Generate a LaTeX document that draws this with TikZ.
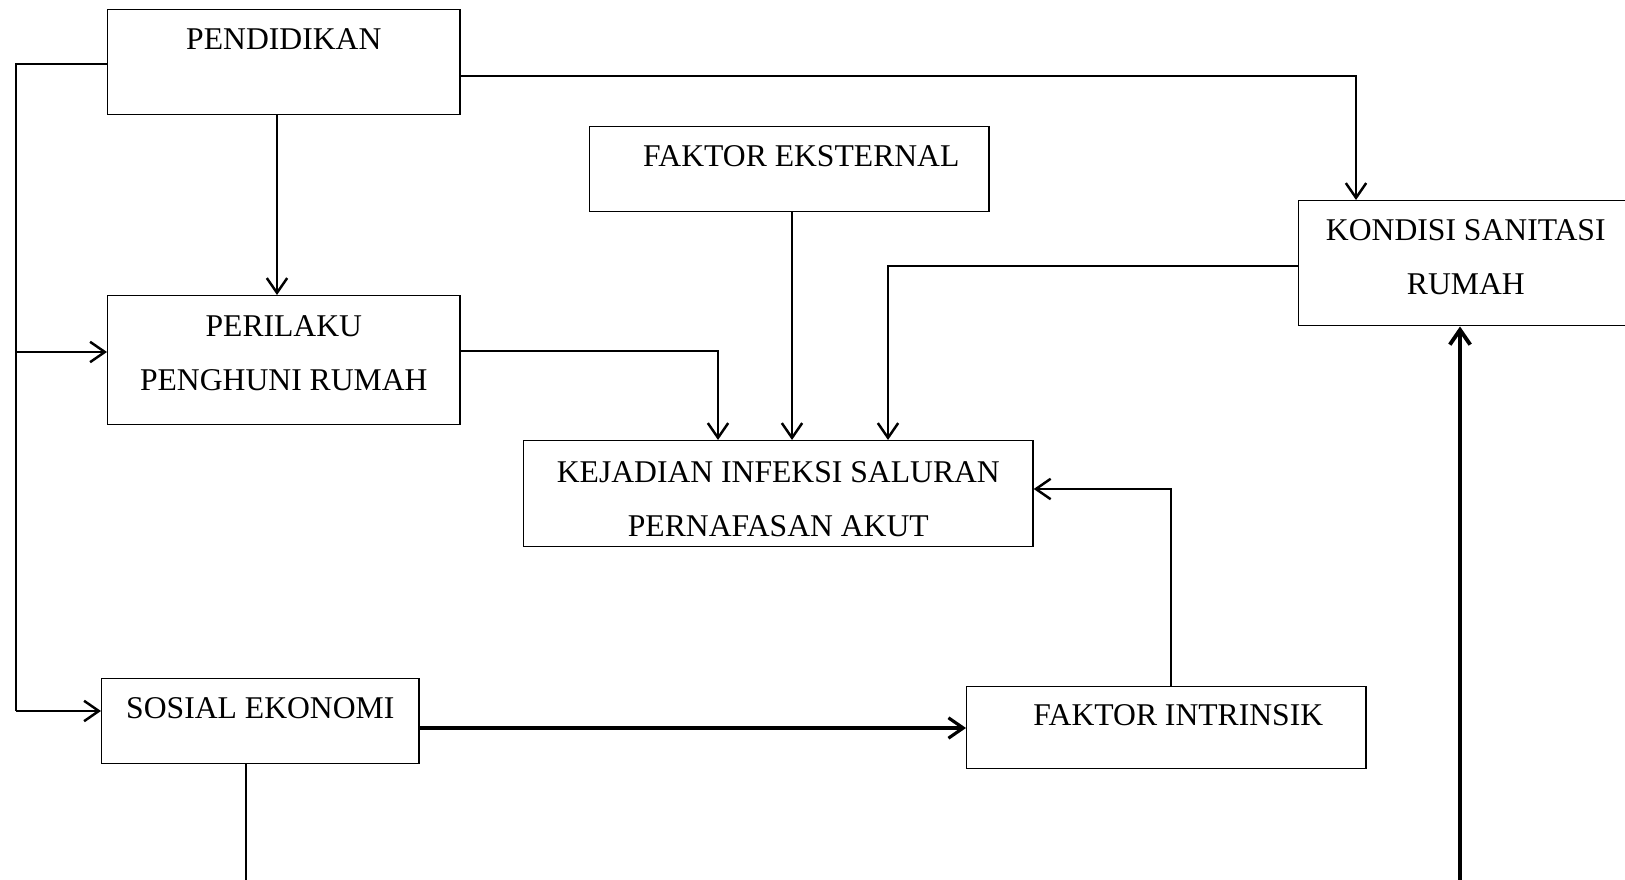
\documentclass[tikz,border=0pt]{standalone}
\usepackage{fontspec}
\setmainfont{Liberation Serif}
\usetikzlibrary{arrows.meta}

\begin{document}
\begin{tikzpicture}
	[x=0.01cm,y=-0.01cm,>={Straight Barb[length=4.2pt,width=5.8pt]},
	box/.style={draw,line width=0.4pt,anchor=north west,inner sep=0pt,align=center,font=\fontsize{9}{15.5}\selectfont},
	link/.style={line width=0.45pt},
	arr/.style={->,line width=0.7pt}]
	\clip (0,0) rectangle (1625,880);
	\node[box,minimum width=3.52cm,text height=0.40cm,text depth=0.65cm] (pend) at (107,9) {PENDIDIKAN};
	\node[box,minimum width=3.52cm,text height=0.95cm,text depth=0.34cm] (peri) at (107,295) {PERILAKU\\PENGHUNI RUMAH};
	\node[box,minimum width=3.99cm,text height=0.40cm,text depth=0.45cm] (ekst) at (589,126) {\hspace*{0.24cm}FAKTOR EKSTERNAL};
	\node[box,minimum width=3.34cm,text height=0.94cm,text depth=0.31cm] (kond) at (1298,200) {KONDISI SANITASI\\RUMAH};
	\node[box,minimum width=5.09cm,text height=0.96cm,text depth=0.10cm] (ispa) at (523,440) {KEJADIAN INFEKSI SALURAN\\PERNAFASAN AKUT};
	\node[box,minimum width=3.17cm,text height=0.40cm,text depth=0.45cm] (sos) at (101,678) {SOSIAL EKONOMI};
	\node[box,minimum width=3.99cm,text height=0.39cm,text depth=0.43cm] (intr) at (966,686) {\hspace*{0.24cm}FAKTOR INTRINSIK};

	\coordinate (bus) at (16,64);
	\coordinate (b1) at (16,352);
	\coordinate (b2) at (16,711);
	\coordinate (sosout) at (246,880);
	\coordinate (kondin) at (1460,880);
	\coordinate (intrup) at (1171,489);

	\draw[link] (pend.west |- bus) -- (bus) -- (b2);
	\draw[arr] (b1) -- (b1 -| peri.west);
	\draw[arr] (b2) -- (b2 -| sos.west);
	\draw[arr] (pend.south -| 277,0) -- (peri.north -| 277,0);
	\draw[link] (pend.east |- 0,76) -| (1356,180);
	\draw[arr] (1356,180) -- (kond.north -| 1356,0);
	\draw[arr] (ekst.south -| 792,0) -- (ispa.north -| 792,0);
	\draw[link] (peri.east |- 0,351) -| (718,420);
	\draw[arr] (718,420) -- (ispa.north -| 718,0);
	\draw[link] (kond.west |- 0,266) -| (888,420);
	\draw[arr] (888,420) -- (ispa.north -| 888,0);
	\draw[link] (intr.north -| intrup) -- (intrup) -- (1050,489);
	\draw[arr] (1050,489) -- (ispa.east |- intrup);
	\draw[->,line width=0.9pt] (sos.east |- 0,728) -- (intr.west |- 0,728);
	\draw[link] (sosout |- sos.south) -- (sosout);
	\draw[->,line width=1.1pt] (kondin) -- (kondin |- kond.south);
\end{tikzpicture}
\end{document}
